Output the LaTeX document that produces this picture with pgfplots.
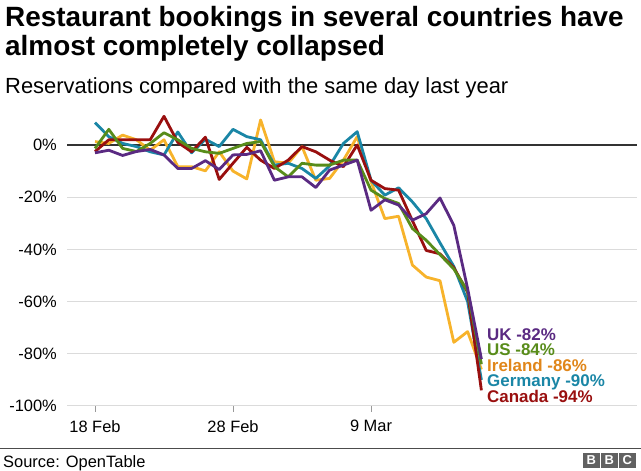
\documentclass[border=0pt]{standalone}
\usepackage{pgfplots}
\pgfplotsset{compat=1.18}
\usepackage{pgfplotstable}
\usepackage{fontspec}
\setmainfont{Liberation Sans}
\definecolor{ukc}{HTML}{5A2A82}
\definecolor{usc}{HTML}{588C1A}
\definecolor{iec}{HTML}{F7B32B}
\definecolor{iel}{HTML}{E0861A}
\definecolor{dec}{HTML}{1A86A6}
\definecolor{cac}{HTML}{990F0F}
\pgfplotstableread{
d v
0 -3
1 -2
2 -4
3 -2.5
4 -1.7
5 -3.8
6 -9
7 -9
8 -6
9 -9.4
10 -3.8
11 -3.6
12 -2.2
13 -13.5
14 -12.2
15 -12.2
16 -16.3
17 -9.6
18 -7.7
19 -5.8
20 -25
21 -21
22 -23
23 -28.8
24 -26.3
25 -20.3
26 -30.8
27 -55
28 -82
}\uk
\pgfplotstableread{
d v
0 -1.3
1 6
2 -1.3
3 -2.5
4 0.6
5 4.7
6 2
7 -1.3
8 -2.6
9 -3.2
10 -1.3
11 0.6
12 1.3
13 -8.3
14 -12.2
15 -7
16 -7.7
17 -7.7
18 -5.8
19 -5.8
20 -17.3
21 -20.5
22 -22.4
23 -32
24 -36.5
25 -42
26 -47.5
27 -56
28 -84
}\us
\pgfplotstableread{
d v
0 1.3
1 0.6
2 3.8
3 2
4 -2
5 2
6 -8.3
7 -8.3
8 -9.9
9 -2.6
10 -10
11 -13
12 9.6
13 -6.4
14 -7
15 -0.6
16 -13.5
17 -12.8
18 -5.8
19 3.2
20 -14
21 -28.2
22 -27.3
23 -46
24 -50.6
25 -52
26 -75.6
27 -71.5
28 -86
}\ie
\pgfplotstableread{
d v
0 8.6
1 3.2
2 0.6
3 -0.6
4 -2.6
5 -3.8
6 5
7 -3
8 2.2
9 -0.6
10 6
11 3.2
12 2
13 -7.7
14 -7
15 -9
16 -12.8
17 -8
18 0.6
19 5.1
20 -13.5
21 -19.2
22 -16.4
23 -21.8
24 -28.2
25 -37.5
26 -46.5
27 -60
28 -90
}\de
\pgfplotstableread{
d v
0 -2.5
1 2
2 2
3 2
4 2
5 11
6 1
7 -2.6
8 3
9 -13.2
10 -7
11 -0.9
12 -5.8
13 -9
14 -5.8
15 -0.6
16 -2.6
17 -5.8
18 -8.3
19 0
20 -13.5
21 -16.7
22 -17.3
23 -29
24 -40.4
25 -41.7
26 -47
27 -56.4
28 -94
}\ca
\begin{document}
\begin{tikzpicture}[x=1bp,y=1bp]
\path[use as bounding box] (0,0) rectangle (641,471);
\node[anchor=base west, inner sep=0pt, font=\bfseries\fontsize{28}{32}\selectfont] at (5,444) {Restaurant bookings in several countries have};
\node[anchor=base west, inner sep=0pt, font=\bfseries\fontsize{28}{32}\selectfont] at (5,415) {almost completely collapsed};
\node[anchor=base west, inner sep=0pt, font=\fontsize{22}{26}\selectfont] at (5,377) {Reservations compared with the same day last year};
\begin{axis}[
  at={(67bp,65bp)}, anchor=south west,
  scale only axis, width=570bp, height=292.3bp,
  xmin=-2.029, xmax=39.275, ymin=-100, ymax=12,
  clip=false,
  axis lines*=left,
  axis line style={draw=none},
  tick align=outside,
  major tick length=6bp,
  xtick={0,10,20},
  xticklabels={18 Feb,28 Feb,9 Mar},
  ytick={-100,-80,-60,-40,-20,0},
  yticklabels={-100\%,-80\%,-60\%,-40\%,-20\%,0\%},
  ymajorgrids,
  grid style={draw=black!14, line width=1bp},
  x tick style={draw=black!40, line width=1bp},
  y tick style={draw=none},
  tick label style={font=\fontsize{16.5}{19}\selectfont},
  xticklabel style={anchor=north, inner sep=0pt, yshift=-8bp},
  yticklabel style={anchor=east, inner sep=0pt, xshift=-4bp},
  every axis plot/.append style={line width=2.8bp, line join=round, no markers},
]
\draw[black!80, line width=1.6bp] (axis cs:-2.029,0) -- (axis cs:39.275,0);
\addplot[iec] table[x=d,y=v] {\ie};
\addplot[dec] table[x=d,y=v] {\de};
\addplot[cac] table[x=d,y=v] {\ca};
\addplot[usc] table[x=d,y=v] {\us};
\addplot[ukc] table[x=d,y=v] {\uk};
\end{axis}
\begin{scope}[every node/.style={anchor=base west, inner sep=0pt, font=\bfseries\fontsize{17}{19}\selectfont}]
\node[text=ukc] at (487,130) {UK -82\%};
\node[text=usc] at (487,115) {US -84\%};
\node[text=iel] at (487,99) {Ireland -86\%};
\node[text=dec] at (487,84) {Germany -90\%};
\node[text=cac] at (487,68) {Canada -94\%};
\end{scope}
\draw[black!70, line width=1bp] (0,22) -- (641,22);
\node[anchor=base west, inner sep=0pt, font=\fontsize{16.5}{19}\selectfont] at (3,3) {Source: OpenTable};
\foreach \i/\l in {0/B,1/B,2/C} {
  \fill[black!62] (583+\i*18,3) rectangle ++(16.5,15);
  \node[text=white, font=\bfseries\fontsize{13}{15}\selectfont, inner sep=0pt] at (583+\i*18+8.25,10.5) {\l};
}
\end{tikzpicture}
\end{document}
